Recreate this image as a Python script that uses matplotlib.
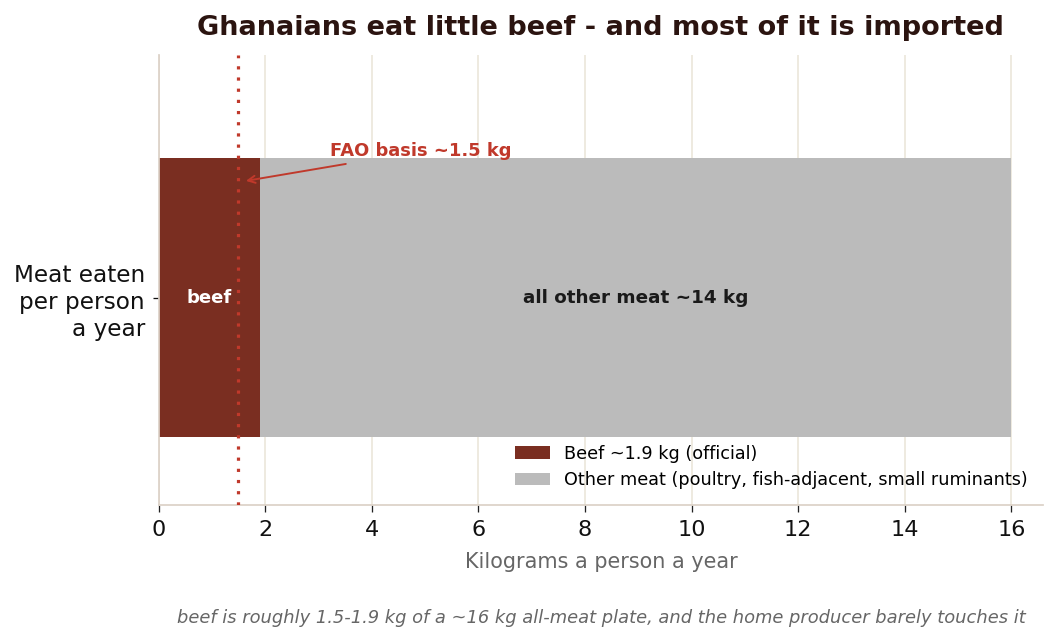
import matplotlib.pyplot as plt

plt.rcParams["font.family"] = ["DejaVu Sans"]

CATEGORY = ["Meat eaten\nper person\na year"]
BEEF_KG = [1.9]
OTHER_KG = [14.1]
FAO_BEEF_KG = 1.5
TOTAL_KG = 16

BEEF_COLOR = "#7a2e21"
OTHER_COLOR = "#bbbbbb"
ACCENT = "#c0392b"
GRID = "#ece8dc"

DPI = 115
fig, ax = plt.subplots(figsize=(1057 / DPI, 642 / DPI), dpi=DPI)
fig.subplots_adjust(left=0.150, right=0.987, top=0.915, bottom=0.213)

ax.barh(CATEGORY, BEEF_KG, height=0.6, color=BEEF_COLOR,
        label="Beef ~1.9 kg (official)", zorder=2)
ax.barh(CATEGORY, OTHER_KG, left=BEEF_KG, height=0.6, color=OTHER_COLOR,
        label="Other meat (poultry, fish-adjacent, small ruminants)", zorder=2)

ax.axvline(FAO_BEEF_KG, color=ACCENT, linestyle=(0, (1, 2.5)), linewidth=2, zorder=3)

ax.text(BEEF_KG[0] / 2, 0, "beef", color="white", fontsize=11.3,
        fontweight="bold", ha="center", va="center", zorder=4)
ax.text(BEEF_KG[0] + OTHER_KG[0] / 2, 0, "all other meat ~14 kg", color="#1a1a1a",
        fontsize=11.5, fontweight="bold", ha="center", va="center", zorder=4)

ax.annotate("FAO basis ~1.5 kg", xy=(1.58, 0.25), xytext=(3.22, 0.315),
            color=ACCENT, fontsize=11.2, fontweight="bold", va="center",
            arrowprops=dict(arrowstyle="->", color=ACCENT, lw=1.2), zorder=5)

ax.set_xlim(0, 16.6)
ax.set_ylim(-0.447, 0.523)
ax.set_xticks(range(0, TOTAL_KG + 1, 2))
ax.tick_params(axis="both", labelsize=14, colors="#111111")
ax.tick_params(axis="x", length=4.5, pad=5, color="#222222")
ax.tick_params(axis="y", pad=5)
for label in ax.get_yticklabels():
    label.set_linespacing(1.22)
    label.set_fontsize(14.5)
ax.set_xlabel("Kilograms a person a year", fontsize=13, color="#666666", labelpad=7)
ax.set_title("Ghanaians eat little beef - and most of it is imported",
             fontsize=17, fontweight="bold", color="#2b1410", pad=12)

ax.grid(axis="x", color=GRID, linewidth=1.1, zorder=0)
ax.set_axisbelow(True)
for side in ["top", "right"]:
    ax.spines[side].set_visible(False)
for side in ["left", "bottom"]:
    ax.spines[side].set_color("#dcd2c8")
    ax.spines[side].set_linewidth(1.1)

ax.legend(loc="lower right", frameon=False, fontsize=11, handlelength=2.0,
          borderaxespad=0.5)

fig.text(0.970, 0.038,
         "beef is roughly 1.5-1.9 kg of a ~16 kg all-meat plate, and the home producer barely touches it",
         ha="right", va="center", fontsize=11.2, style="italic", color="#666666")

fig.savefig("out.png", dpi=DPI)
